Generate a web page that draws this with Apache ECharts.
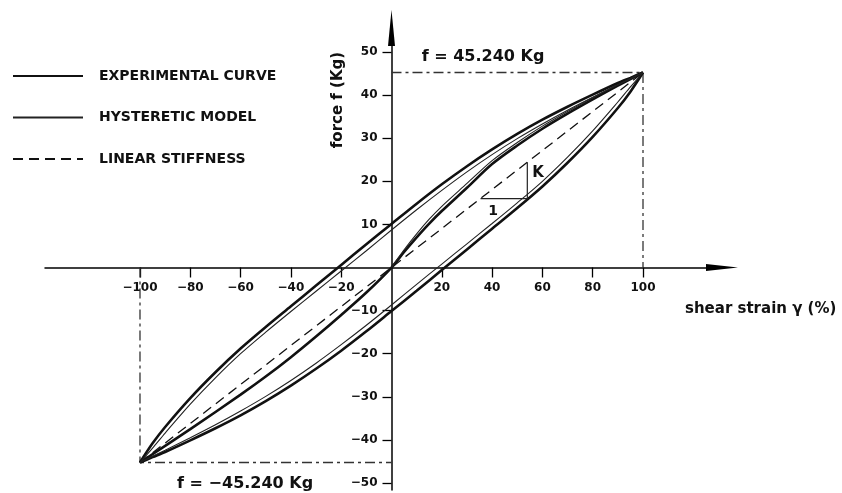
<!DOCTYPE html>
<html><head><meta charset="utf-8">
<script src="https://cdn.jsdelivr.net/npm/echarts@6/dist/echarts.min.js"></script>
<style>html,body{margin:0;padding:0;background:#fff}#c{width:842px;height:493px}</style>
</head><body><div id="c"></div>
<script>
// ---- tick labels ----
const xTicks = [-100, -80, -60, -40, -20, 20, 40, 60, 80, 100];
const yTicks = [-50, -40, -30, -20, -10, 10, 20, 30, 40, 50];

// ---- outer loop (shear strain %, force Kg) ----
const loopX = [-100, -95, -90, -80, -70, -60, -50, -40, -30, -20, -10, 0, 10, 20, 30, 40, 50, 60, 70, 80, 90, 95, 100];
const expUpper = [-45.24, -40.8, -37.0, -30.3, -24.3, -18.8, -13.8, -9.0, -4.2, 0.6, 5.4, 10.1, 14.8, 19.3, 23.5, 27.4, 31.0, 34.3, 37.3, 40.1, 42.8, 44.0, 45.24];
const expLower = [-45.24, -44.0, -42.8, -40.1, -37.3, -34.3, -31.0, -27.4, -23.5, -19.3, -14.8, -10.1, -5.4, -0.6, 4.2, 9.0, 13.8, 18.8, 24.3, 30.3, 37.0, 40.8, 45.24];
const modUpper = [-45.24, -41.9, -38.4, -31.7, -25.6, -20.0, -15.0, -10.2, -5.5, -0.8, 3.9, 8.7, 13.4, 17.9, 22.2, 26.2, 29.9, 33.3, 36.5, 39.5, 42.4, 43.8, 45.24];
const modLower = [-45.24, -43.8, -42.4, -39.5, -36.5, -33.3, -29.9, -26.2, -22.2, -17.9, -13.4, -8.7, -3.9, 0.8, 5.5, 10.2, 15.0, 20.0, 25.6, 31.7, 38.4, 41.9, 45.24];

// ---- skeleton (loading) curves ----
const skelX = [-100, -80, -60, -50, -40, -30, -20, -10, 0, 5, 10, 15, 20, 30, 40, 50, 60, 70, 80, 90, 100];
const skelExp = [-45.24, -37.5, -29.5, -25.3, -20.8, -16.0, -11.0, -5.8, 0, 3.6, 7.0, 10.2, 13.1, 18.5, 24.0, 28.3, 32.2, 35.7, 39.0, 42.2, 45.24];
const skelModX = [0, 5, 10, 15, 20, 30, 40, 50, 60, 70, 80, 90, 100];
const skelMod = [0, 4.1, 7.8, 11.2, 14.2, 19.5, 24.8, 29.0, 32.8, 36.2, 39.4, 42.4, 45.24];

// ---- linear stiffness ----
const linX = [-100, 100];
const linY = [-45.24, 45.24];

// ---- reference dash-dot lines ----
const refTopX = [0, 100, 100];
const refTopY = [45.24, 45.24, 0];
const refBotX = [-100, -100, 0];
const refBotY = [0, -45.24, -45.24];

// ---- stiffness triangle ----
const triX = [35.4, 54, 54];
const triY = [16, 16, 24.4];

// ---- annotation texts (anchored in data coordinates) ----
const noteText = ['f = 45.240 Kg', 'f = \u221245.240 Kg', 'K', '1'];
const noteX = [36.4, -58.2, 58.3, 40.4];
const noteY = [48.8, -50.1, 21.8, 13.0];
const noteSize = [16, 16, 15, 14];

const zip = (a, b) => a.map((v, i) => [v, b[i]]);

const FONT = 'DejaVu Sans';
const fmt = v => String(v).replace('-', '\u2212');
const EXP = 'EXPERIMENTAL CURVE', MOD = 'HYSTERETIC MODEL', LIN = 'LINEAR STIFFNESS';
const X_MIN = -137.77, X_MAX = 131.41, Y_MIN = -51.62, Y_MAX = 55.57;
const INK = '#111';

const hidden = {show: false};
const expStyle = {color: INK, width: 2.6};
const modStyle = {color: '#222', width: 1.1};

const chart = echarts.init(document.getElementById('c'), null, {renderer: 'canvas'});
chart.setOption({
  animation: false,
  backgroundColor: '#fff',
  grid: [
    {left: 45, right: 120, top: 28, bottom: 3, outerBoundsMode: 'none', containLabel: false},
    {left: 45, right: 120, top: 28, bottom: 225.5, outerBoundsMode: 'none', containLabel: false},
    {left: 391.5, right: 120, top: 28, bottom: 3, outerBoundsMode: 'none', containLabel: false}
  ],
  legend: {
    data: [EXP, MOD, LIN], orient: 'vertical', left: 12, top: 69, padding: 0,
    itemWidth: 70, itemHeight: 14, itemGap: 27.5, selectedMode: false,
    itemStyle: {opacity: 0},
    textStyle: {fontSize: 14, fontWeight: 'bold', color: INK, fontFamily: FONT, padding: [0, 0, 0, 11]}
  },
  xAxis: [
    {type: 'value', gridIndex: 0, min: X_MIN, max: X_MAX, show: false},
    {type: 'value', gridIndex: 1, min: X_MIN, max: X_MAX, position: 'bottom', splitLine: hidden,
     axisLine: {onZero: false, symbol: ['none', 'triangle'], symbolSize: [7, 32], lineStyle: {color: '#000', width: 1.5}},
     axisTick: {show: true, customValues: xTicks, length: 10, lineStyle: {color: '#000', width: 1.3}},
     axisLabel: {customValues: xTicks, margin: 14, fontSize: 12, fontWeight: 'bold', color: INK, fontFamily: FONT, formatter: fmt}},
    {type: 'value', gridIndex: 2, min: 0, max: 1, show: false}
  ],
  yAxis: [
    {type: 'value', gridIndex: 0, min: Y_MIN, max: Y_MAX, show: false},
    {type: 'value', gridIndex: 1, min: 0, max: 1, show: false},
    {type: 'value', gridIndex: 2, min: Y_MIN, max: Y_MAX, position: 'left', splitLine: hidden,
     axisLine: {onZero: false, symbol: ['none', 'triangle'], symbolSize: [7, 36], lineStyle: {color: '#000', width: 1.5}},
     axisTick: {show: true, customValues: yTicks, length: 9, lineStyle: {color: '#000', width: 1.3}},
     axisLabel: {customValues: yTicks, margin: 14, fontSize: 12, fontWeight: 'bold', color: INK, fontFamily: FONT, formatter: fmt}}
  ],
  series: [
    {name: 'refTop', type: 'line', data: zip(refTopX, refTopY), symbol: 'none', silent: true,
     lineStyle: {color: '#333', width: 1.3, type: [10, 4, 3, 4]}},
    {name: 'refBot', type: 'line', data: zip(refBotX, refBotY), symbol: 'none', silent: true,
     lineStyle: {color: '#333', width: 1.3, type: [10, 4, 3, 4]}},
    {name: LIN, type: 'line', data: zip(linX, linY), symbol: 'none',
     lineStyle: {color: INK, width: 1.3, type: [10, 6]}},
    {name: EXP, type: 'line', data: zip(loopX, expUpper), symbol: 'none', smooth: 0.3, lineStyle: expStyle},
    {name: EXP, type: 'line', data: zip(loopX, expLower), symbol: 'none', smooth: 0.3, lineStyle: expStyle},
    {name: EXP, type: 'line', data: zip(skelX, skelExp), symbol: 'none', smooth: 0.3, lineStyle: expStyle},
    {name: MOD, type: 'line', data: zip(loopX, modUpper), symbol: 'none', smooth: 0.3, lineStyle: modStyle},
    {name: MOD, type: 'line', data: zip(loopX, modLower), symbol: 'none', smooth: 0.3, lineStyle: modStyle},
    {name: MOD, type: 'line', data: zip(skelModX, skelMod), symbol: 'none', smooth: 0.3, lineStyle: modStyle},
    {name: 'triangle', type: 'line', data: zip(triX, triY), symbol: 'none', silent: true,
     lineStyle: {color: '#222', width: 1.2}}
  ]
});

// texts: annotation anchors converted through the chart's own scales
const noteGraphics = noteText.map((t, i) => {
  const p = chart.convertToPixel({gridIndex: 0}, [noteX[i], noteY[i]]);
  return {type: 'text', x: p[0], y: p[1], silent: true,
    style: {text: t, font: 'bold ' + noteSize[i] + 'px "DejaVu Sans"', fill: INK, align: 'center', verticalAlign: 'middle'}};
});
chart.setOption({graphic: [
  {type: 'text', left: 685, top: 302, style: {text: 'shear strain \u03b3 (%)', font: 'bold 15px "DejaVu Sans"', fill: INK}},
  {type: 'text', x: 338, y: 100, rotation: Math.PI / 2,
   style: {text: 'force f (Kg)', font: 'bold 15px "DejaVu Sans"', fill: INK, align: 'center', verticalAlign: 'middle'}}
].concat(noteGraphics)});
</script></body></html>
